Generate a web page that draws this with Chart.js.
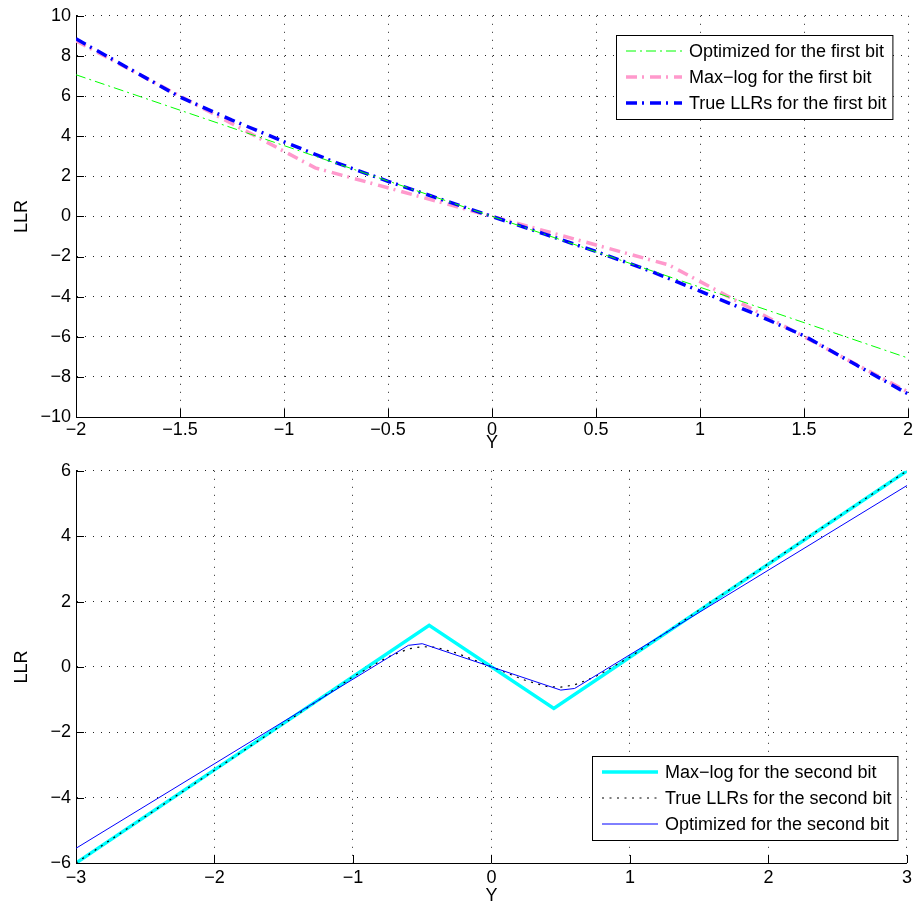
<!DOCTYPE html>
<html>
<head>
<meta charset="utf-8">
<script src="https://cdn.jsdelivr.net/npm/chart.js@4.4.1/dist/chart.umd.min.js"></script>
<style>
body { margin: 0; background: #fff; }
.box { position: relative; width: 916px; height: 455px; }
</style>
</head>
<body>
<div class="box"><canvas id="top"></canvas></div>
<div class="box"><canvas id="bottom"></canvas></div>
<script>
// first bit (top panel)
var optX1 = [-2, -1, 0, 1, 2];
var optY1 = [7.06, 3.53, 0, -3.53, -7.06];
var maxX1 = [-2, -0.85, 0, 0.85, 2];
var maxY1 = [8.75, 2.42, 0, -2.42, -8.75];
var trueX1 = [-2, -1.75, -1.5, -1.25, -1, -0.75, -0.5, -0.25, 0, 0.25, 0.5, 0.75, 1, 1.25, 1.5, 1.75, 2];
var trueY1 = [8.85, 7.4, 5.95, 4.8, 3.72, 2.68, 1.75, 0.87, 0, -0.87, -1.75, -2.68, -3.72, -4.8, -5.95, -7.4, -8.85];

// second bit (bottom panel)
var maxX2 = [-3, -0.45, 0.45, 3];
var maxY2 = [-6, 1.27, -1.27, 6];
var trueX2 = [-3, -2, -1.5, -1, -0.75, -0.6, -0.5, -0.4, -0.25, 0, 0.25, 0.4, 0.5, 0.6, 0.75, 1, 1.5, 2, 3];
var trueY2 = [-6, -3.16, -1.74, -0.3, 0.3, 0.55, 0.62, 0.6, 0.42, 0, -0.42, -0.6, -0.62, -0.55, -0.3, 0.3, 1.74, 3.16, 6];
var optX2 = [-3, -0.6, -0.5, 0, 0.5, 0.6, 3];
var optY2 = [-5.55, 0.66, 0.71, 0, -0.71, -0.66, 5.55];

var FONT = '"Liberation Sans", Arial, Helvetica, sans-serif';
Chart.defaults.font.family = FONT;
Chart.defaults.font.size = 18;
Chart.defaults.color = '#000';

function pts(xs, ys) {
    return xs.map(function(x, i) { return {x: x, y: ys[i]}; });
}
function minus(v) {
    return String(v).replace('-', '\u2212');
}

// MATLAB style ticks pointing into the plot
var innerTicks = {
    id: 'innerTicks',
    afterDraw: function(chart) {
        var ctx = chart.ctx, a = chart.chartArea;
        var xs = chart.scales.x, ys = chart.scales.y;
        ctx.save();
        ctx.strokeStyle = '#000';
        ctx.lineWidth = 1;
        ctx.beginPath();
        xs.ticks.forEach(function(t) {
            var px = Math.round(xs.getPixelForValue(t.value)) + 0.5;
            ctx.moveTo(px, a.bottom);
            ctx.lineTo(px, a.bottom - 8);
        });
        ys.ticks.forEach(function(t) {
            var py = Math.round(ys.getPixelForValue(t.value)) + 0.5;
            ctx.moveTo(a.left, py);
            ctx.lineTo(a.left + 8, py);
        });
        ctx.stroke();
        ctx.restore();
    }
};

// boxed legend drawn inside the plot area
var boxLegend = {
    id: 'boxLegend',
    afterDraw: function(chart, args, opts) {
        var ctx = chart.ctx, a = chart.chartArea;
        var sets = chart.data.datasets;
        ctx.save();
        ctx.font = '18px ' + FONT;
        var w = 0;
        sets.forEach(function(ds) { w = Math.max(w, ctx.measureText(ds.label).width); });
        var rowH = 26, lineLen = 56, padL = 10, gap = 7, padR = 6;
        var bw = padL + lineLen + gap + w + padR;
        var bh = sets.length * rowH + 6;
        var x0 = Math.round(a.right - opts.right - bw);
        var y0 = Math.round(opts.top != null ? a.top + opts.top : a.bottom - opts.bottom - bh);
        ctx.fillStyle = '#fff';
        ctx.fillRect(x0, y0, bw, bh);
        ctx.strokeStyle = '#000';
        ctx.lineWidth = 1;
        ctx.setLineDash([]);
        ctx.strokeRect(x0 + 0.5, y0 + 0.5, bw, bh);
        sets.forEach(function(ds, i) {
            var cy = y0 + 3 + rowH * i + rowH / 2;
            ctx.beginPath();
            ctx.setLineDash(ds.borderDash || []);
            ctx.strokeStyle = ds.borderColor;
            ctx.lineWidth = ds.borderWidth;
            ctx.moveTo(x0 + padL, cy);
            ctx.lineTo(x0 + padL + lineLen, cy);
            ctx.stroke();
            ctx.setLineDash([]);
            ctx.fillStyle = '#000';
            ctx.textBaseline = 'middle';
            ctx.textAlign = 'left';
            ctx.fillText(ds.label, x0 + padL + lineLen + gap, cy + 1);
        });
        ctx.restore();
    }
};

function axes(xmin, xmax, xstep, ymin, ymax, ystep, xh, tickPad, titlePad) {
    return {
        x: {
            type: 'linear', min: xmin, max: xmax,
            ticks: {stepSize: xstep, padding: tickPad, maxRotation: 0, callback: minus},
            grid: {color: '#222', lineWidth: 1, drawTicks: false},
            border: {display: true, color: '#000', width: 1, dash: [1, 7]},
            title: {display: true, text: 'Y', padding: {top: 0, bottom: titlePad}},
            afterFit: function(s) { s.height = xh; }
        },
        y: {
            type: 'linear', min: ymin, max: ymax,
            ticks: {stepSize: ystep, padding: 5, callback: minus},
            grid: {color: '#222', lineWidth: 1, drawTicks: false},
            border: {display: true, color: '#000', width: 1, dash: [1, 7]},
            title: {display: true, text: 'LLR', padding: {top: 11, bottom: 0}},
            afterFit: function(s) { s.width = 76; }
        }
    };
}

function line(label, xs, ys, color, width, dash, order) {
    return {
        label: label, data: pts(xs, ys),
        borderColor: color, backgroundColor: color,
        borderWidth: width, borderDash: dash,
        pointRadius: 0, fill: false, tension: 0, order: order
    };
}

new Chart(document.getElementById('top'), {
    type: 'line',
    data: {
        datasets: [
            line('Optimized for the first bit', optX1, optY1, '#00ff00', 1, [10, 4, 2, 4], 1),
            line('Max\u2212log for the first bit', maxX1, maxY1, '#ff99cc', 3.5, [11, 5, 2, 6], 3),
            line('True LLRs for the first bit', trueX1, trueY1, '#0000ff', 3.5, [11, 5, 2, 6], 2)
        ]
    },
    options: {
        responsive: true, maintainAspectRatio: false, animation: false,
        layout: {padding: {top: 15, right: 8, left: 0, bottom: 0}},
        scales: axes(-2, 2, 0.5, -10, 10, 2, 38, 2, 1),
        plugins: {legend: {display: false}, tooltip: {enabled: false},
                  boxLegend: {top: 19, right: 16}}
    },
    plugins: [innerTicks, boxLegend]
});

new Chart(document.getElementById('bottom'), {
    type: 'line',
    data: {
        datasets: [
            line('Max\u2212log for the second bit', maxX2, maxY2, '#00ffff', 3.5, [], 3),
            line('True LLRs for the second bit', trueX2, trueY2, '#000000', 1.2, [2, 5.5], 2),
            line('Optimized for the second bit', optX2, optY2, '#0000ff', 1, [], 1)
        ]
    },
    options: {
        responsive: true, maintainAspectRatio: false, animation: false,
        layout: {padding: {top: 15, right: 8, left: 0, bottom: 0}},
        scales: axes(-3, 3, 1, -6, 6, 2, 47, 4, 3),
        plugins: {legend: {display: false}, tooltip: {enabled: false},
                  boxLegend: {bottom: 23, right: 10}}
    },
    plugins: [innerTicks, boxLegend]
});
</script>
</body>
</html>
